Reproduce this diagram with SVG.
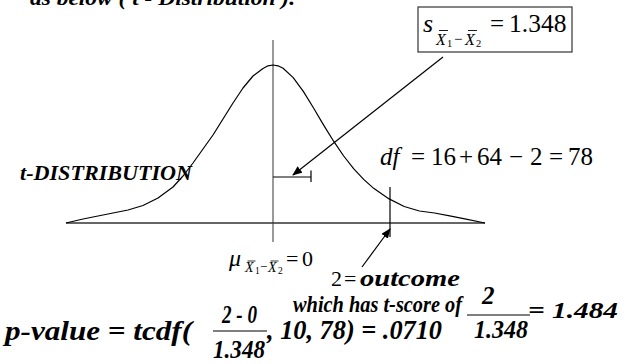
<svg xmlns="http://www.w3.org/2000/svg" width="625" height="364" viewBox="0 0 625 364">
<style>
.m{font-family:"Liberation Serif","DejaVu Serif",serif;font-style:normal;font-weight:normal;fill:#000}
.i{font-style:italic}
.bi{font-family:"Liberation Serif","DejaVu Serif",serif;font-style:italic;font-weight:bold;fill:#000}
.ln{stroke:#000;stroke-width:1.2;fill:none}
</style>
<defs>
<marker id="ah" markerWidth="10" markerHeight="8" refX="9" refY="4" orient="auto" markerUnits="userSpaceOnUse">
<path d="M0,0 L10,4 L0,8 Z" fill="#000"/>
</marker>
</defs>
<rect width="625" height="364" fill="#fff"/>

<g id="title">
<text class="bi" x="30" y="5" font-size="22" textLength="265" lengthAdjust="spacingAndGlyphs">as below ( t - Distribution ).</text>
</g>

<g id="distribution">
<line x1="273" y1="40" x2="273" y2="242" stroke="#808080" stroke-width="1.6"/>
<line x1="66" y1="223" x2="485" y2="223" stroke="#333" stroke-width="1.4"/>
<polyline class="ln" stroke-linejoin="round" points="66,223 83,219 98,216 113,213 128,210 143,205.5 158,198 173,187 183,176 193,163 203,149 213,135 223,119 233,103 243,88 253,76 263,68.5 268,65.8 273,65 278,65.8 283.1,68.3 293.2,77.6 303.3,91.4 313.4,107.8 323.5,124.9 333.6,141.2 343.7,156 353.8,168.8 363.9,179.6 374,188.6 389.1,198.9 404.2,206.5 419.4,211 434.5,213 449.7,215.8 464.8,218.8 485,223"/>
<line class="ln" x1="390" y1="187" x2="390" y2="237"/>
<line class="ln" x1="273" y1="177" x2="311" y2="177"/>
<line class="ln" x1="311" y1="170.5" x2="311" y2="182"/>
</g>

<g id="se-box">
<rect x="418" y="7" width="154" height="45" fill="#fff" stroke="#333" stroke-width="1.2"/>
<text class="m i" x="423" y="32" font-size="26">s</text>
<text class="m i" x="436" y="45" font-size="16">X</text>
<text class="m" x="447" y="47" font-size="10.5">1</text>
<text class="m" x="454" y="44" font-size="15">−</text>
<text class="m i" x="465" y="45" font-size="16">X</text>
<text class="m" x="476" y="47" font-size="10.5">2</text>
<line x1="439" y1="30.5" x2="448" y2="30.5" stroke="#000" stroke-width="0.9"/>
<line x1="468" y1="30.5" x2="477" y2="30.5" stroke="#000" stroke-width="0.9"/>
<text class="m" x="490" y="32" font-size="25">=</text>
<text class="m" x="509" y="32" font-size="25.5">1.348</text>
</g>

<g id="t-label">
<text class="bi" x="20" y="180" font-size="21" textLength="172" lengthAdjust="spacingAndGlyphs">t-DISTRIBUTION</text>
</g>

<g id="df-label">
<text class="m i" x="380" y="165" font-size="25">df</text>
<text class="m" x="411" y="165" font-size="25">=</text>
<text class="m" x="431" y="165" font-size="25">16</text>
<text class="m" x="459" y="165" font-size="25">+</text>
<text class="m" x="477" y="165" font-size="25">64</text>
<text class="m" x="509" y="165" font-size="25">−</text>
<text class="m" x="530" y="165" font-size="25">2</text>
<text class="m" x="549" y="165" font-size="25">=</text>
<text class="m" x="568" y="165" font-size="25">78</text>
</g>

<g id="mu-label">
<text class="m i" x="229" y="266" font-size="24">μ</text>
<text class="m i" x="245" y="272" font-size="14">X</text>
<text class="m" x="255" y="274" font-size="9.5">1</text>
<text class="m" x="260" y="271" font-size="13">−</text>
<text class="m i" x="268" y="272" font-size="14">X</text>
<text class="m" x="278" y="274" font-size="9.5">2</text>
<line x1="247.5" y1="261" x2="255.5" y2="261" stroke="#000" stroke-width="0.8"/>
<line x1="270.5" y1="261" x2="278.5" y2="261" stroke="#000" stroke-width="0.8"/>
<text class="m" x="286" y="266" font-size="22">=</text>
<text class="m" x="302" y="266" font-size="22">0</text>
</g>

<g id="outcome-label">
<text class="m" x="331" y="286" font-size="22">2</text>
<text class="m" x="344" y="286" font-size="22">=</text>
<text class="bi" x="360" y="286" font-size="24" textLength="100" lengthAdjust="spacingAndGlyphs">outcome</text>
</g>

<g id="formula">
<text class="bi" x="5" y="340" font-size="28" textLength="187" lengthAdjust="spacingAndGlyphs">p-value = tcdf(</text>
<text class="bi" x="222" y="323" font-size="25" textLength="35" lengthAdjust="spacingAndGlyphs">2 - 0</text>
<line x1="213" y1="331" x2="267" y2="331" stroke="#000" stroke-width="1.1"/>
<text class="bi" x="213" y="358" font-size="26" textLength="52" lengthAdjust="spacingAndGlyphs">1.348</text>
<text class="bi" x="267" y="339" font-size="27" textLength="175" lengthAdjust="spacingAndGlyphs">, 10, 78) = .0710</text>
<text class="bi" x="293" y="312" font-size="23" textLength="169" lengthAdjust="spacingAndGlyphs">which has t-score of</text>
<text class="bi" x="482" y="304" font-size="25">2</text>
<line x1="467" y1="315" x2="530" y2="315" stroke="#000" stroke-width="1.1"/>
<text class="bi" x="474" y="338" font-size="26" textLength="54" lengthAdjust="spacingAndGlyphs">1.348</text>
<text class="bi" x="528" y="318" font-size="24" textLength="90" lengthAdjust="spacingAndGlyphs">= 1.484</text>
</g>

<g id="connectors">
<line class="ln" x1="443" y1="57" x2="293" y2="175" marker-end="url(#ah)"/>
<line class="ln" x1="362" y1="267" x2="390" y2="229" marker-end="url(#ah)"/>
</g>
</svg>
